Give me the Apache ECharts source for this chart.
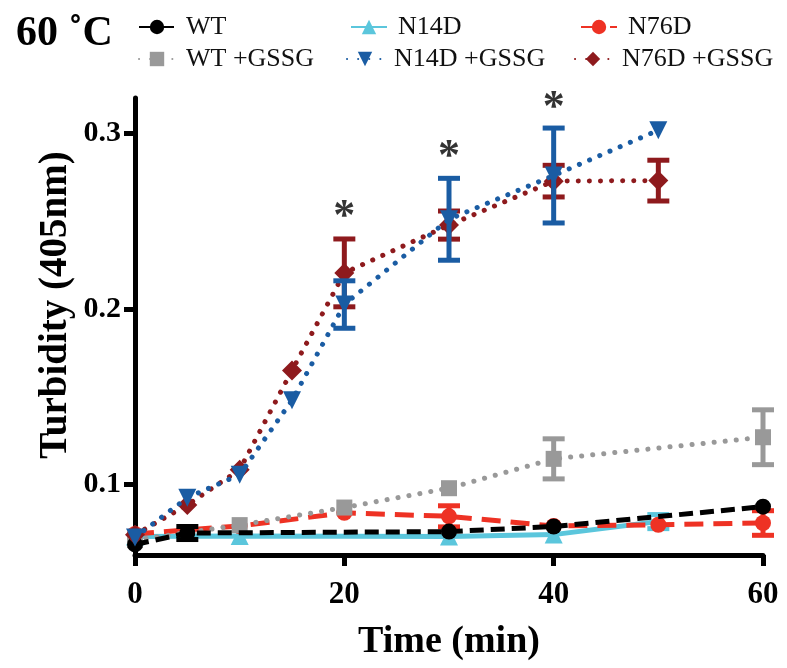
<!DOCTYPE html>
<html><head><meta charset="utf-8">
<script src="https://cdn.jsdelivr.net/npm/echarts@6/dist/echarts.min.js"></script>
<style>html,body{margin:0;padding:0;background:#fff}#c{width:787px;height:668px}</style>
</head><body><div id="c"></div>
<script>
// ---- data ----
const seriesNames = ['WT','N14D','N76D','WT +GSSG','N14D +GSSG','N76D +GSSG'];
const wtTime = [0,5,30,40,60];
const wtVal  = [0.066,0.0725,0.0733,0.0762,0.0875];
const wtErr  = [0,0.0037,0,0,0];
const n14Time = [0,10,30,40,50];
const n14Val  = [0.0705,0.0708,0.0705,0.0716,0.079];
const n14Err  = [0,0,0,0,0.004];
const n76Time = [0,10,20,30,40,50,60];
const n76Val  = [0.072,0.0765,0.084,0.082,0.0765,0.0772,0.0782];
const n76Err  = [0,0,0,0.006,0,0,0.007];
const wtgTime = [0,10,20,30,40,60];
const wtgVal  = [0.0685,0.077,0.087,0.098,0.1147,0.127];
const wtgErr  = [0,0,0,0,0.0114,0.0156];
const n14gTime = [0,5,10,15,20,30,40,50];
const n14gVal  = [0.070,0.0926,0.1057,0.148,0.2025,0.251,0.2759,0.3017];
const n14gErr  = [0,0,0,0,0.0135,0.0233,0.027,0];
const n76gTime = [0,5,10,15,20,30,40,50];
const n76gVal  = [0.0715,0.0885,0.1085,0.165,0.2205,0.2477,0.2727,0.273];
const n76gErr  = [0,0,0,0,0.0193,0.008,0.009,0.0116];
const starTime = [20,30,40];
const starVal  = [0.252,0.286,0.314];
const xTicks = [0,20,40,60];
const yTicks = [0.1,0.2,0.3];

// ---- build ----
const serif = 'Liberation Serif';
const pairs = (t,v)=>t.map((x,i)=>[x,v[i]]);
const errData = (t,v,e)=>t.map((x,i)=>[x,v[i],e[i]]).filter(d=>d[2]>0);
const triDown = 'path://M0,0 L10,0 L5,9 Z';
const cfg = [
  {name:seriesNames[0], t:wtTime, v:wtVal, e:wtErr, color:'#000000', type:[14,7], symbol:'circle', size:16, z:8, cap:'butt'},
  {name:seriesNames[1], t:n14Time, v:n14Val, e:n14Err, color:'#5BC6DC', type:'solid', symbol:'triangle', size:18, z:4, cap:'butt'},
  {name:seriesNames[2], t:n76Time, v:n76Val, e:n76Err, color:'#EE3224', type:[19,10], symbol:'circle', size:16, z:5, cap:'butt'},
  {name:seriesNames[3], t:wtgTime, v:wtgVal, e:wtgErr, color:'#999999', type:[0.1,11], symbol:'rect', size:16, z:6, cap:'round'},
  {name:seriesNames[4], t:n14gTime, v:n14gVal, e:n14gErr, color:'#1A5CA3', type:[0.1,11], symbol:triDown, size:18, z:10, cap:'round'},
  {name:seriesNames[5], t:n76gTime, v:n76gVal, e:n76gErr, color:'#8E1A1D', type:[0.1,11], symbol:'diamond', size:20, z:9, cap:'round'}
];
const series = [];
cfg.forEach(c=>{
  series.push({
    name:c.name, type:'line', data:pairs(c.t,c.v), z:c.z,
    symbol:c.symbol, symbolSize:c.size, showAllSymbol:true,
    itemStyle:{color:c.color},
    lineStyle:{color:c.color, width:5, type:c.type, cap:c.cap},
    emphasis:{disabled:true}, animation:false
  });
  series.push({
    name:c.name+'_err', type:'custom', data:errData(c.t,c.v,c.e), z:c.z,
    animation:false, silent:true,
    renderItem:function(params, api){
      const x=api.value(0), y=api.value(1), e=api.value(2);
      const top=api.coord([x,y+e]), bot=api.coord([x,y-e]);
      const w=11;
      const st={stroke:c.color, lineWidth:5, lineCap:'butt'};
      return {type:'group', children:[
        {type:'line', shape:{x1:top[0],y1:top[1],x2:bot[0],y2:bot[1]}, style:st},
        {type:'line', shape:{x1:top[0]-w,y1:top[1],x2:top[0]+w,y2:top[1]}, style:st},
        {type:'line', shape:{x1:bot[0]-w,y1:bot[1],x2:bot[0]+w,y2:bot[1]}, style:st}
      ]};
    }
  });
});
series.push({
  name:'stars', type:'scatter', data:pairs(starTime,starVal), symbolSize:1,
  itemStyle:{color:'rgba(0,0,0,0)'}, z:20, silent:true, animation:false,
  label:{show:true, formatter:'*', position:'inside', color:'#000', fontSize:44, fontWeight:'bold', fontFamily:serif}
});

const legPos = [
  {left:133, top:9}, {left:345, top:9}, {left:575, top:9},
  {left:133, top:41}, {left:341, top:41}, {left:569, top:41}
];
const legends = seriesNames.map((n,i)=>({
  data:[n], left:legPos[i].left, top:legPos[i].top, orient:'horizontal',
  itemWidth:36, itemHeight:18, itemGap:0, selectedMode:false,
  textStyle:{fontFamily:serif, fontSize:26, color:'#111', padding:[0,0,0,6]}
}));

const chart = echarts.init(document.getElementById('c'), null, {renderer:'canvas'});
chart.setOption({
  backgroundColor:'#fff',
  animation:false,
  title:{text:'60 ˚C', left:11, top:8, textStyle:{fontFamily:serif, fontWeight:'bold', fontSize:42, color:'#000'}},
  legend:legends,
  graphic:[{type:'text', x:56, y:305, rotation:Math.PI/2,
    style:{text:'Turbidity (405nm)', fontFamily:serif, fontWeight:'bold', fontSize:39, fill:'#000', align:'center', verticalAlign:'middle'}}],
  grid:{left:135, right:24, top:98, bottom:113, containLabel:false},
  xAxis:{type:'value', min:0, max:60, interval:20,
    name:'Time (min)', nameLocation:'middle', nameGap:68,
    nameTextStyle:{fontFamily:serif, fontWeight:'bold', fontSize:38, color:'#000'},
    axisLine:{lineStyle:{color:'#000', width:5}},
    axisTick:{length:11, lineStyle:{color:'#000', width:5}, customValues:xTicks},
    axisLabel:{fontFamily:serif, fontWeight:'bold', fontSize:31, color:'#000', margin:24, customValues:xTicks},
    splitLine:{show:false}},
  yAxis:{type:'value', min:0.06, max:0.32, interval:0.02,
    axisLine:{show:true, lineStyle:{color:'#000', width:5}},
    axisTick:{show:true, length:11, lineStyle:{color:'#000', width:5}, customValues:yTicks},
    axisLabel:{fontFamily:serif, fontWeight:'bold', fontSize:30, color:'#000', margin:14, customValues:yTicks,
      formatter:v=>v.toFixed(1)},
    splitLine:{show:false}},
  series:series
});
</script></body></html>
